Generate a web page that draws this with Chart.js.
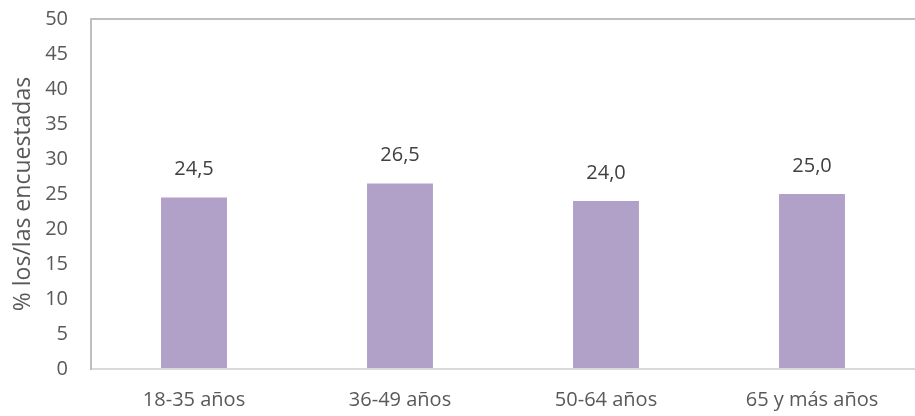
<!DOCTYPE html>
<html>
<head>
<meta charset="utf-8">
<script src="https://cdn.jsdelivr.net/npm/chart.js@4"></script>
<style>
  html, body { margin: 0; padding: 0; background: #fff; }
  #wrap { width: 915px; height: 416px; }
</style>
</head>
<body>
<div id="wrap"><canvas id="myChart"></canvas></div>
<script>
const categories = ['18-35 años', '36-49 años', '50-64 años', '65 y más años'];
const values = [24.5, 26.5, 24.0, 25.0];
const yTicks = [0, 5, 10, 15, 20, 25, 30, 35, 40, 45, 50];
const yTitle = '% los/las encuestadas';

const FONT = 'Open Sans';

// etiquetas encima de cada barra
const valueLabels = {
  id: 'valueLabels',
  afterDatasetsDraw(chart) {
    const ctx = chart.ctx;
    const meta = chart.getDatasetMeta(0);
    ctx.save();
    ctx.font = '20px "' + FONT + '"';
    ctx.fillStyle = '#404040';
    ctx.textAlign = 'center';
    ctx.textBaseline = 'middle';
    meta.data.forEach((bar, i) => {
      ctx.fillText(values[i].toFixed(1).replace('.', ','), bar.x, bar.y - 28);
    });
    ctx.restore();
  }
};

var ctx = document.getElementById("myChart").getContext("2d");
var myChart = new Chart(ctx, {
  type: 'bar',
  data: {
    labels: categories,
    datasets: [{
      data: values,
      backgroundColor: '#B1A0C7',
      barPercentage: 0.32,
      categoryPercentage: 1
    }]
  },
  options: {
    responsive: true,
    maintainAspectRatio: false,
    animation: false,
    layout: { padding: { top: 0, right: 0, bottom: 0, left: 10 } },
    plugins: {
      legend: { display: false },
      tooltip: { enabled: false }
    },
    scales: {
      x: {
        grid: { display: false, drawTicks: false },
        border: { color: '#d9d9d9', width: 2 },
        ticks: { color: '#595959', font: { family: FONT, size: 20 }, padding: 19 },
        afterFit: (axis) => { axis.height = 47; }
      },
      y: {
        min: 0,
        max: 50,
        afterBuildTicks: (axis) => { axis.ticks = yTicks.map(v => ({ value: v })); },
        afterFit: (axis) => {
          axis.width = 81;
          axis.paddingTop = 19;
          axis.paddingBottom = 0;
        },
        grid: {
          drawTicks: false,
          color: (c) => c.tick && c.tick.value === 50 ? '#bfbfbf' : 'transparent',
          lineWidth: 2
        },
        border: { color: '#bfbfbf', width: 2 },
        ticks: { color: '#595959', font: { family: FONT, size: 20 }, padding: 23 },
        title: {
          display: true,
          text: yTitle,
          color: '#595959',
          font: { family: FONT, size: 23 },
          padding: 0
        }
      }
    }
  },
  plugins: [valueLabels]
});
</script>
</body>
</html>
